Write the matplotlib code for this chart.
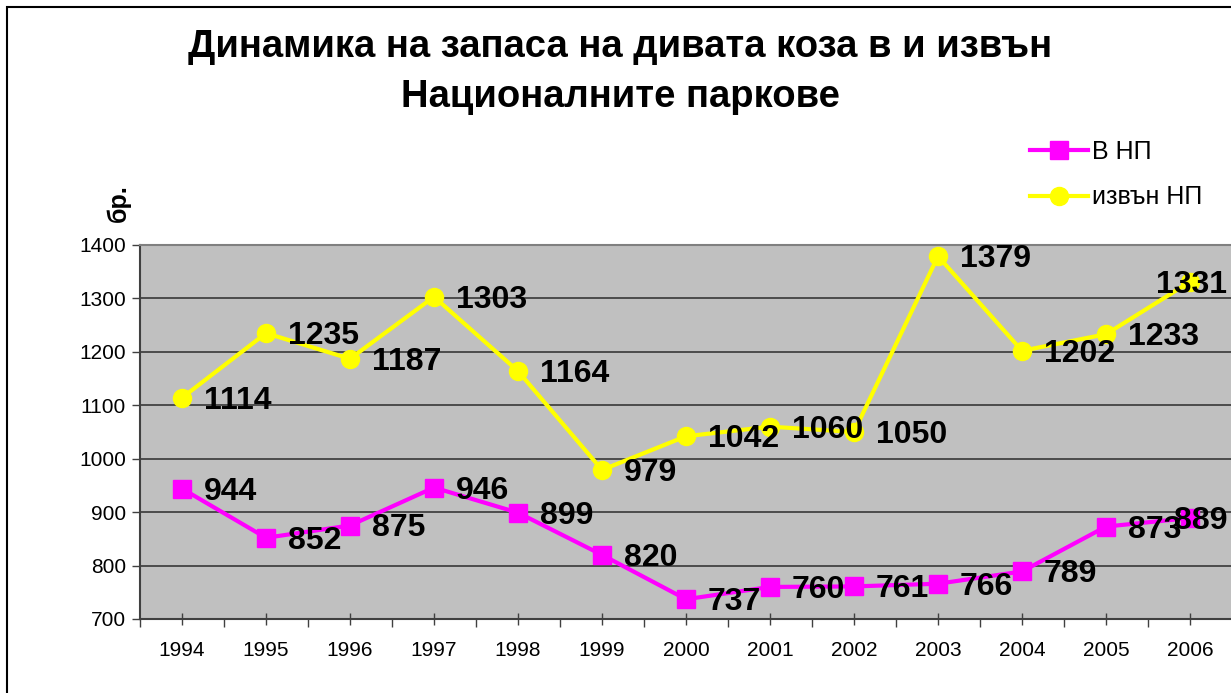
import matplotlib
matplotlib.use("Agg")
import matplotlib.pyplot as plt
from matplotlib.ticker import MultipleLocator, FixedLocator

plt.rcParams['font.family'] = ['Liberation Sans', 'DejaVu Sans']

years = ['1994', '1995', '1996', '1997', '1998', '1999', '2000',
         '2001', '2002', '2003', '2004', '2005', '2006']
in_np = [944, 852, 875, 946, 899, 820, 737, 760, 761, 766, 789, 873, 889]
out_np = [1114, 1235, 1187, 1303, 1164, 979, 1042, 1060, 1050, 1379, 1202, 1233, 1331]
series_names = ['В НП', 'извън НП']
title_lines = ['Динамика на запаса на дивата коза в и извън', 'Националните паркове']
ylabel = 'бр.'

W, H = 1231, 693
fig = plt.figure(figsize=(W / 100, H / 100), dpi=100)
fig.patch.set_facecolor('white')

# outer chart border (partly outside the image)
fig.add_artist(plt.Rectangle((7 / W, -0.1), 1.2, 1 - 7 / H + 0.1,
                             transform=fig.transFigure, fill=False,
                             edgecolor='black', linewidth=1.5))

ax = fig.add_axes([140 / W, 74 / H, 1092 / W, 374 / H])
ax.set_facecolor('#C0C0C0')
x = list(range(len(years)))

ax.set_xlim(-0.5, len(years) - 0.5)
ax.set_ylim(700, 1400)
ax.yaxis.set_major_locator(MultipleLocator(100))
ax.grid(axis='y', color='#383838', linewidth=1.2)
ax.set_axisbelow(True)

ax.plot(x, in_np, color='#FF00FF', linewidth=3, marker='s', markersize=13,
        markerfacecolor='#FF00FF', markeredgecolor='#FF00FF', label=series_names[0], zorder=3)
ax.plot(x, out_np, color='#FFFF00', linewidth=3, marker='o', markersize=13,
        markerfacecolor='#FFFF00', markeredgecolor='#FFFF00', label=series_names[1], zorder=3)

for vals in (in_np, out_np):
    for i, v in enumerate(vals):
        if i == len(vals) - 1:
            ax.annotate(str(v), (i, v), xytext=(37, -3), textcoords='offset pixels',
                        ha='right', va='center', fontsize=23, fontweight='bold',
                        color='black', zorder=4, annotation_clip=False)
        else:
            ax.annotate(str(v), (i, v), xytext=(22, -3), textcoords='offset pixels',
                        ha='left', va='center', fontsize=23, fontweight='bold',
                        color='black', zorder=4, annotation_clip=False)

# x ticks: category labels at centres, tick marks at boundaries
ax.set_xticks(x)
ax.set_xticklabels(years, fontsize=15)
ax.tick_params(axis='x', which='major', length=8, direction='inout', width=1,
               color='#404040', pad=12)
ax.xaxis.set_minor_locator(FixedLocator([i - 0.5 for i in range(len(years) + 1)]))
ax.tick_params(axis='x', which='minor', length=6, width=1, color='#404040')
ax.tick_params(axis='y', labelsize=15, length=6, width=1, color='#404040', pad=4)

for s in ['top', 'right']:
    ax.spines[s].set_color('#808080')
    ax.spines[s].set_linewidth(1.5)
for s in ['left', 'bottom']:
    ax.spines[s].set_color('#404040')
    ax.spines[s].set_linewidth(1.5)

fig.text(620 / W, 1 - 57 / H, title_lines[0], ha='center', va='baseline', fontsize=27.5,
         fontweight='bold')
fig.text(620 / W, 1 - 107 / H, title_lines[1], ha='center', va='baseline', fontsize=27.5,
         fontweight='bold')

fig.text(119 / W, 1 - 203 / H, ylabel, rotation=90, ha='center', va='center',
         fontsize=18, fontweight='bold')

leg = fig.legend(loc='upper left', bbox_to_anchor=(1030 / W, 1 - 140 / H),
                 frameon=False, fontsize=18, handlelength=2.3, handletextpad=0.2,
                 labelspacing=0.85, borderpad=0, borderaxespad=0, numpoints=1)

fig.savefig('out.png', dpi=100)
